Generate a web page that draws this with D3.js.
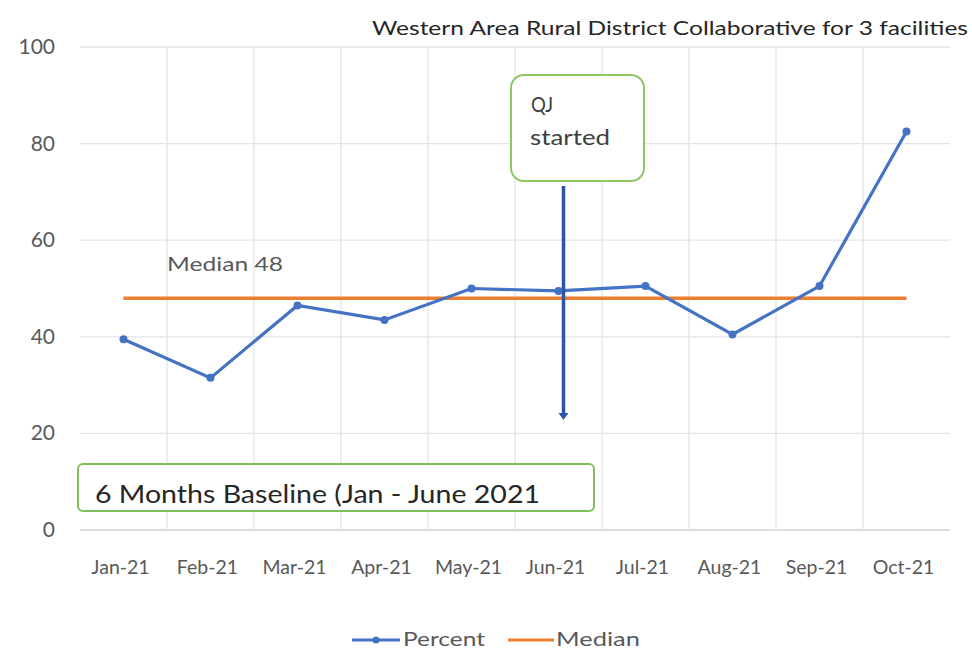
<!DOCTYPE html>
<html>
<head>
<meta charset="utf-8">
<script src="https://cdn.jsdelivr.net/npm/d3@7"></script>
<style>
  body { margin: 0; background: #fff; }
  svg text { font-family: Lato, "Open Sans", sans-serif; }
</style>
</head>
<body>
<div id="chart"></div>
<script>
// chart data
const months = ['Jan-21', 'Feb-21', 'Mar-21', 'Apr-21', 'May-21', 'Jun-21', 'Jul-21', 'Aug-21', 'Sep-21', 'Oct-21'];
const percent = [39.5, 31.5, 46.5, 43.5, 50, 49.5, 50.5, 40.5, 50.5, 82.5];
const median = [48, 48, 48, 48, 48, 48, 48, 48, 48, 48];
const yTicks = [0, 20, 40, 60, 80, 100];

const width = 972;
const height = 651;
const margin = { top: 47, right: 22, bottom: 121, left: 80 };

const svg = d3.select('#chart')
  .append('svg')
  .attr('width', width)
  .attr('height', height);

const x = d3.scaleBand()
  .domain(months)
  .range([margin.left, width - margin.right]);

const y = d3.scaleLinear()
  .domain([0, 100])
  .range([height - margin.bottom, margin.top]);

const cx = d => x(d) + x.bandwidth() / 2;

// stretch text horizontally a bit, the source render is wide
function wide(sel, len) {
  return sel.attr('textLength', len).attr('lengthAdjust', 'spacingAndGlyphs');
}

// gridlines
svg.append('g')
  .selectAll('line.h')
  .data(yTicks)
  .enter().append('line')
  .attr('x1', margin.left)
  .attr('x2', width - margin.right)
  .attr('y1', d => y(d))
  .attr('y2', d => y(d))
  .attr('stroke', d => d === 0 ? '#d0d0d0' : '#e4e4e4')
  .attr('stroke-width', 1.3);

svg.append('g')
  .selectAll('line.v')
  .data(months.slice(1))
  .enter().append('line')
  .attr('x1', d => x(d))
  .attr('x2', d => x(d))
  .attr('y1', y(100))
  .attr('y2', y(0))
  .attr('stroke', '#e4e4e4')
  .attr('stroke-width', 1.3);

// y labels
svg.append('g')
  .selectAll('text')
  .data(yTicks)
  .enter().append('text')
  .attr('x', 55)
  .attr('y', d => y(d) + 7)
  .attr('text-anchor', 'end')
  .attr('fill', '#595959')
  .style('font-size', '21px')
  .text(d => d);

// x labels
svg.append('g')
  .selectAll('text')
  .data(months)
  .enter().append('text')
  .attr('x', d => cx(d) - 3)
  .attr('y', 574)
  .attr('text-anchor', 'middle')
  .attr('fill', '#595959')
  .style('font-size', '19.5px')
  .text(d => d);

// median line
const line = d3.line()
  .x((d, i) => cx(months[i]))
  .y(d => y(d));

svg.append('path')
  .datum(median)
  .attr('d', line)
  .attr('fill', 'none')
  .attr('stroke', '#ED7D31')
  .attr('stroke-width', 3.5);

// percent line
svg.append('path')
  .datum(percent)
  .attr('d', line)
  .attr('fill', 'none')
  .attr('stroke', '#4472C4')
  .attr('stroke-width', 3.2);

svg.append('g')
  .selectAll('circle')
  .data(percent)
  .enter().append('circle')
  .attr('cx', (d, i) => cx(months[i]))
  .attr('cy', d => y(d))
  .attr('r', 4)
  .attr('fill', '#4472C4');

// median label
wide(svg.append('text')
  .attr('x', 167)
  .attr('y', 271)
  .attr('fill', '#595959')
  .style('font-size', '20px')
  .text('Median 48'), 116);

// QJ started callout
svg.append('rect')
  .attr('x', 511)
  .attr('y', 75)
  .attr('width', 133)
  .attr('height', 106)
  .attr('rx', 13)
  .attr('fill', '#fff')
  .attr('stroke', '#8cc765')
  .attr('stroke-width', 2);

wide(svg.append('text')
  .attr('x', 531)
  .attr('y', 112)
  .attr('fill', '#404040')
  .style('font-size', '21px')
  .text('QJ'), 22);
wide(svg.append('text')
  .attr('x', 530)
  .attr('y', 145)
  .attr('fill', '#404040')
  .style('font-size', '21px')
  .text('started'), 80);

// arrow
const ax = cx('Jun-21') + 5;
svg.append('line')
  .attr('x1', ax)
  .attr('x2', ax)
  .attr('y1', 186)
  .attr('y2', 416)
  .attr('stroke', '#2F55A4')
  .attr('stroke-width', 3.5);
svg.append('path')
  .attr('d', `M${ax - 5},413 L${ax + 5},413 L${ax},420 Z`)
  .attr('fill', '#2F55A4');

// baseline box
svg.append('rect')
  .attr('x', 78)
  .attr('y', 464)
  .attr('width', 516)
  .attr('height', 47)
  .attr('rx', 5)
  .attr('fill', '#fff')
  .attr('stroke', '#7fc05a')
  .attr('stroke-width', 2);
wide(svg.append('text')
  .attr('x', 95)
  .attr('y', 503)
  .attr('fill', '#262626')
  .style('font-size', '25px')
  .text('6 Months Baseline (Jan - June 2021'), 445);

// title
wide(svg.append('text')
  .attr('x', 372)
  .attr('y', 35)
  .attr('fill', '#262626')
  .style('font-size', '19px')
  .text('Western Area Rural District Collaborative for 3 facilities'), 596);

// legend
const legend = svg.append('g');
legend.append('line')
  .attr('x1', 352).attr('x2', 400)
  .attr('y1', 640).attr('y2', 640)
  .attr('stroke', '#4472C4').attr('stroke-width', 3);
legend.append('circle')
  .attr('cx', 376).attr('cy', 640).attr('r', 3.5)
  .attr('fill', '#4472C4');
wide(legend.append('text')
  .attr('x', 403).attr('y', 646)
  .attr('fill', '#595959')
  .style('font-size', '19px')
  .text('Percent'), 82);
legend.append('line')
  .attr('x1', 508).attr('x2', 554)
  .attr('y1', 640).attr('y2', 640)
  .attr('stroke', '#ED7D31').attr('stroke-width', 3);
wide(legend.append('text')
  .attr('x', 556).attr('y', 646)
  .attr('fill', '#595959')
  .style('font-size', '19px')
  .text('Median'), 84);
</script>
</body>
</html>
